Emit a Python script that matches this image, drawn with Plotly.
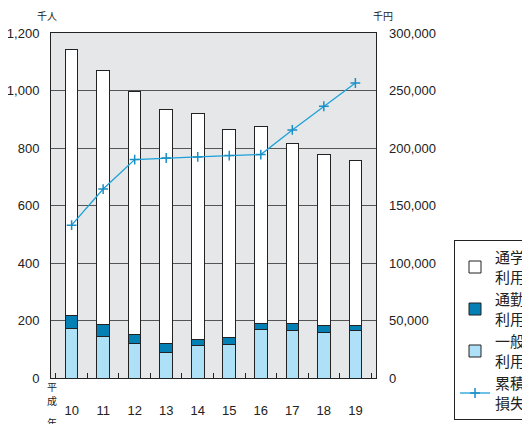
import plotly.graph_objects as go

years = ["10", "11", "12", "13", "14", "15", "16", "17", "18", "19"]
ippan = [173, 144, 120, 89, 113, 116, 167, 165, 157, 165]
tsukin = [45, 42, 31, 31, 21, 24, 24, 26, 26, 18]
tsugaku = [925, 884, 844, 814, 785, 726, 683, 624, 593, 575]
loss = [132900, 164300, 189900, 191300, 192200, 193400, 194300, 215700, 236300, 256500]

JP = "Noto Sans CJK JP"
NUM = "Liberation Sans"

# page body has an 8px default margin; figure is sized/positioned to compensate
OFF = 8
W, H = 530 - OFF, 424 - OFF
pl, pt, pw, ph = 51 - OFF, 33 - OFF, 325, 345

fig = go.Figure()
fig.add_bar(x=years, y=ippan, name="一般<br>利用", marker=dict(color="#aee0f7", line=dict(color="#222", width=1)), legendrank=3)
fig.add_bar(x=years, y=tsukin, name="通勤<br>利用", marker=dict(color="#0580b4", line=dict(color="#222", width=1)), legendrank=2)
fig.add_bar(x=years, y=tsugaku, name="通学<br>利用", marker=dict(color="#ffffff", line=dict(color="#222", width=1)), legendrank=1)
fig.add_scatter(x=years, y=loss, name="累積<br>損失", yaxis="y2", mode="lines+markers",
                line=dict(color="#1ba1d9", width=1.3),
                marker=dict(symbol="cross-thin", size=7, line=dict(color="#1a8fc4", width=1.5)),
                legendrank=4)

fig.update_layout(
    width=W, height=H,
    margin=dict(l=pl, r=W - pl - pw, t=pt, b=H - pt - ph, autoexpand=False),
    paper_bgcolor="white", plot_bgcolor="#e6e7e9",
    barmode="stack", bargap=0.6,
    showlegend=True,
    legend=dict(x=(454 - OFF - pl) / pw, y=1 - (240 - OFF - pt) / ph, xanchor="left", yanchor="top",
                traceorder="normal",
                bordercolor="#222", borderwidth=1, bgcolor="white",
                font=dict(family=JP, size=15, color="#222"),
                tracegroupgap=0, itemwidth=30),
    xaxis=dict(type="category", showline=True, linecolor="#222", linewidth=1, mirror=True,
               ticks="inside", tickson="boundaries", ticklen=5, tickcolor="#222",
               tickfont=dict(family=NUM, size=13, color="#222"), ticklabelstandoff=20,
               showgrid=False, automargin=False),
    yaxis=dict(range=[0, 1200], dtick=200, tickformat=",", showline=True, linecolor="#222",
               linewidth=1, mirror=True, gridcolor="#555", gridwidth=1,
               tickfont=dict(family=NUM, size=13, color="#222"), ticklabelstandoff=8,
               zeroline=False, automargin=False),
    yaxis2=dict(range=[0, 300000], dtick=50000, tickformat=",", overlaying="y", side="right",
                showgrid=False, zeroline=False, tickfont=dict(family=NUM, size=13, color="#222"),
                ticklabelstandoff=12, automargin=False),
)

# annotation positions given in page pixels, converted to paper coordinates
labels = [("千人", 47, 16, 10), ("千円", 383, 16, 10),
          ("平", 52, 386, 10), ("成", 52, 400, 10), ("年", 52, 422, 10)]
for text, px, py, fs in labels:
    fig.add_annotation(text=text, x=(px - OFF - pl) / pw, y=1 - (py - OFF - pt) / ph,
                       xref="paper", yref="paper",
                       showarrow=False, xanchor="center", yanchor="middle",
                       font=dict(family=JP, size=fs, color="#222"))

fig.write_html("out.html")
